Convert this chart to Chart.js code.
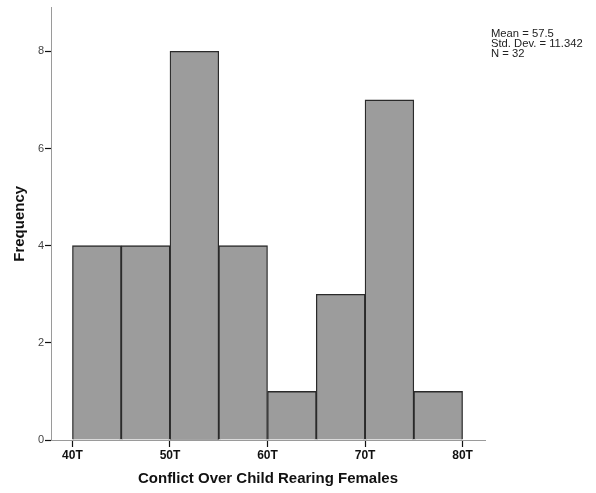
<!DOCTYPE html>
<html>
<head>
<meta charset="utf-8">
<script src="https://cdn.jsdelivr.net/npm/chart.js@4/dist/chart.umd.min.js"></script>
<style>
  html, body { margin: 0; padding: 0; background: #fff; }
  #wrap { width: 596px; height: 493px; }
</style>
</head>
<body>
<div id="wrap"><canvas id="c" width="596" height="493"></canvas></div>
<script>
// Histogram bins (lower edge of each 5-point T-score bin) and counts
const binStarts = [40, 45, 50, 55, 60, 65, 70, 75];
const binWidth = 5;
const frequencies = [4, 4, 8, 4, 1, 3, 7, 1];
const xTickValues = [40, 50, 60, 70, 80];
const yTickValues = [0, 2, 4, 6, 8];
const statsLines = ['Mean = 57.5', 'Std. Dev. = 11.342', 'N = 32'];

const barData = binStarts.map((s, i) => ({ x: s + binWidth / 2, y: frequencies[i] }));

// Summary statistics drawn at the upper right, in a slightly widened face
const statsPlugin = {
  id: 'stats',
  afterDraw(chart) {
    const ctx = chart.ctx;
    ctx.save();
    ctx.translate(491, 0);
    ctx.scale(1.07, 1);
    ctx.font = '10.5px "Liberation Sans", Arial, sans-serif';
    ctx.fillStyle = '#222';
    ctx.textAlign = 'left';
    ctx.textBaseline = 'middle';
    statsLines.forEach((t, i) => ctx.fillText(t, 0, 34 + i * 10));
    ctx.restore();
  }
};

new Chart(document.getElementById('c'), {
  type: 'bar',
  data: {
    datasets: [{
      data: barData,
      backgroundColor: '#9c9c9c',
      borderColor: '#2a2a2a',
      borderWidth: 1.3,
      barPercentage: 1,
      categoryPercentage: 1
    }]
  },
  options: {
    responsive: false,
    animation: false,
    layout: { padding: { top: 7, right: 111, left: 0, bottom: 0 } },
    plugins: { legend: { display: false }, tooltip: { enabled: false } },
    scales: {
      x: {
        type: 'linear',
        offset: false,
        min: 37.8,
        max: 82.3,
        afterBuildTicks(s) { s.ticks = xTickValues.map(v => ({ value: v })); },
        afterFit(s) { s.height = 53; },
        ticks: {
          callback: v => v + 'T',
          color: '#111',
          padding: 1,
          maxRotation: 0,
          font: { family: '"Liberation Sans Narrow", "Liberation Sans", Arial, sans-serif', size: 12, weight: 'bold' }
        },
        grid: { offset: false, drawOnChartArea: false, drawTicks: true, tickLength: 7, tickColor: '#111', tickWidth: 1.2 },
        border: { color: '#9a9a9a', width: 1 },
        title: {
          display: true,
          text: 'Conflict Over Child Rearing Females',
          color: '#111',
          font: { family: '"Liberation Sans", Arial, sans-serif', size: 15, weight: 'bold' },
          padding: { top: 4, bottom: 5 }
        }
      },
      y: {
        min: 0,
        max: 8.9,
        afterBuildTicks(s) { s.ticks = yTickValues.map(v => ({ value: v })); },
        afterFit(s) { s.width = 51; },
        ticks: {
          color: '#444',
          padding: 1,
          font: { family: '"Liberation Sans", Arial, sans-serif', size: 11 }
        },
        grid: { drawOnChartArea: false, drawTicks: true, tickLength: 6, tickColor: '#111', tickWidth: 1.2 },
        border: { color: '#9a9a9a', width: 1 },
        title: {
          display: true,
          text: 'Frequency',
          color: '#111',
          font: { family: '"Liberation Sans", Arial, sans-serif', size: 15, weight: 'bold' },
          padding: { top: 11, bottom: 0 }
        }
      }
    }
  },
  plugins: [statsPlugin]
});
</script>
</body>
</html>
